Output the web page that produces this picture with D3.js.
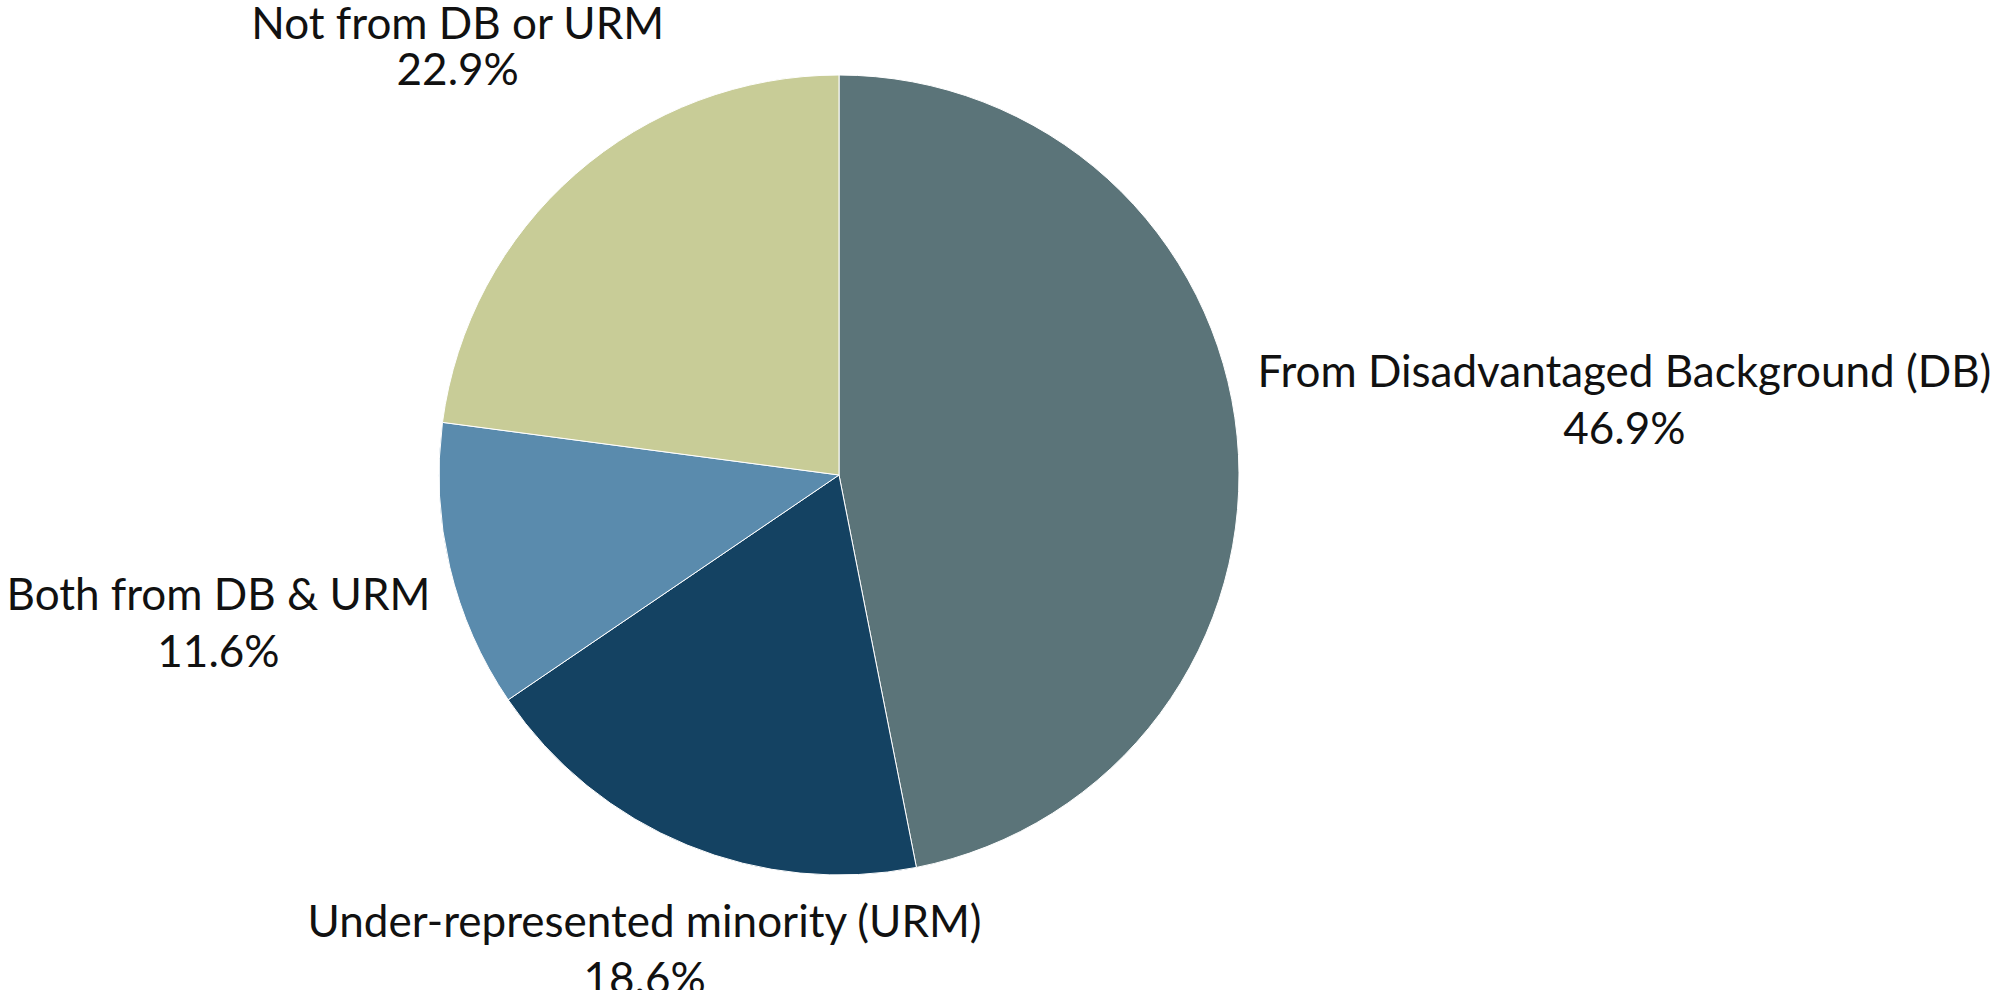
<!DOCTYPE html>
<html>
<head>
<meta charset="utf-8">
<script src="https://cdn.jsdelivr.net/npm/d3@7"></script>
<style>
  html, body { margin: 0; padding: 0; background: #ffffff; }
  svg { display: block; }
  text { font-family: Lato, "Noto Sans", sans-serif; fill: #111111; }
</style>
</head>
<body>
<svg id="chart" width="1991" height="990"></svg>
<script>
// ---- data ----
const categories = [
  "From Disadvantaged Background (DB)",
  "Under-represented minority (URM)",
  "Both from DB & URM",
  "Not from DB or URM"
];
const values = [46.9, 18.6, 11.6, 22.9];
const colors = ["#5b7479", "#144262", "#5a8bad", "#c8cc97"];

// ---- layout ----
const W = 1991, H = 990;
const cx = 839, cy = 475, radius = 400;
const fontSize = 44, lineGap = 57, labelGap = 19, topMargin = 7;

const svg = d3.select("#chart");
const g = svg.append("g").attr("transform", `translate(${cx},${cy})`);

const data = categories.map((c, i) => ({ name: c, value: values[i], color: colors[i] }));

const pie = d3.pie().value(d => d.value).sort(null);
const arc = d3.arc().innerRadius(0).outerRadius(radius);
const arcs = pie(data);

g.selectAll("path.slice")
  .data(arcs)
  .join("path")
  .attr("class", "slice")
  .attr("d", arc)
  .attr("fill", d => d.data.color)
  .attr("stroke", "#ffffff")
  .attr("stroke-width", 1);

// labels: text block centered on the slice's mid-angle ray, pushed out
// until its bounding box is labelGap px outside the pie
const labels = g.selectAll("g.label")
  .data(arcs)
  .join("g")
  .attr("class", "label");

labels.append("text")
  .attr("text-anchor", "middle")
  .attr("font-size", fontSize)
  .each(function(d) {
    const t = d3.select(this);
    t.append("tspan").attr("class", "l1").attr("x", 0).attr("y", 0).text(d.data.name);
    t.append("tspan").attr("class", "l2").attr("x", 0).attr("y", lineGap).text(d3.format(".1f")(d.data.value) + "%");
  });

function rectDist(cxr, cyr, w, h) {
  const dx = Math.max(Math.abs(cxr) - w / 2, 0);
  const dy = Math.max(Math.abs(cyr) - h / 2, 0);
  return Math.hypot(dx, dy);
}

labels.each(function(d) {
  const grp = d3.select(this);
  const bb = grp.node().getBBox();
  const mid = (d.startAngle + d.endAngle) / 2;
  const ux = Math.sin(mid), uy = -Math.cos(mid);
  const target = radius + labelGap;
  let lo = 0, hi = 3000;
  for (let k = 0; k < 60; k++) {
    const m = (lo + hi) / 2;
    if (rectDist(m * ux, m * uy, bb.width, bb.height) < target) lo = m; else hi = m;
  }
  const dist = (lo + hi) / 2;
  const bx = dist * ux, by = dist * uy;
  const tx = bx - (bb.x + bb.width / 2);
  const ty = by - (bb.y + bb.height / 2);
  grp.attr("transform", `translate(${tx},${ty})`);
  // keep the first line inside the top edge of the picture
  const capTop = cy + ty - 0.72 * fontSize;
  if (capTop < topMargin) {
    grp.select("tspan.l1").attr("y", topMargin - capTop);
  }
});
</script>
</body>
</html>
